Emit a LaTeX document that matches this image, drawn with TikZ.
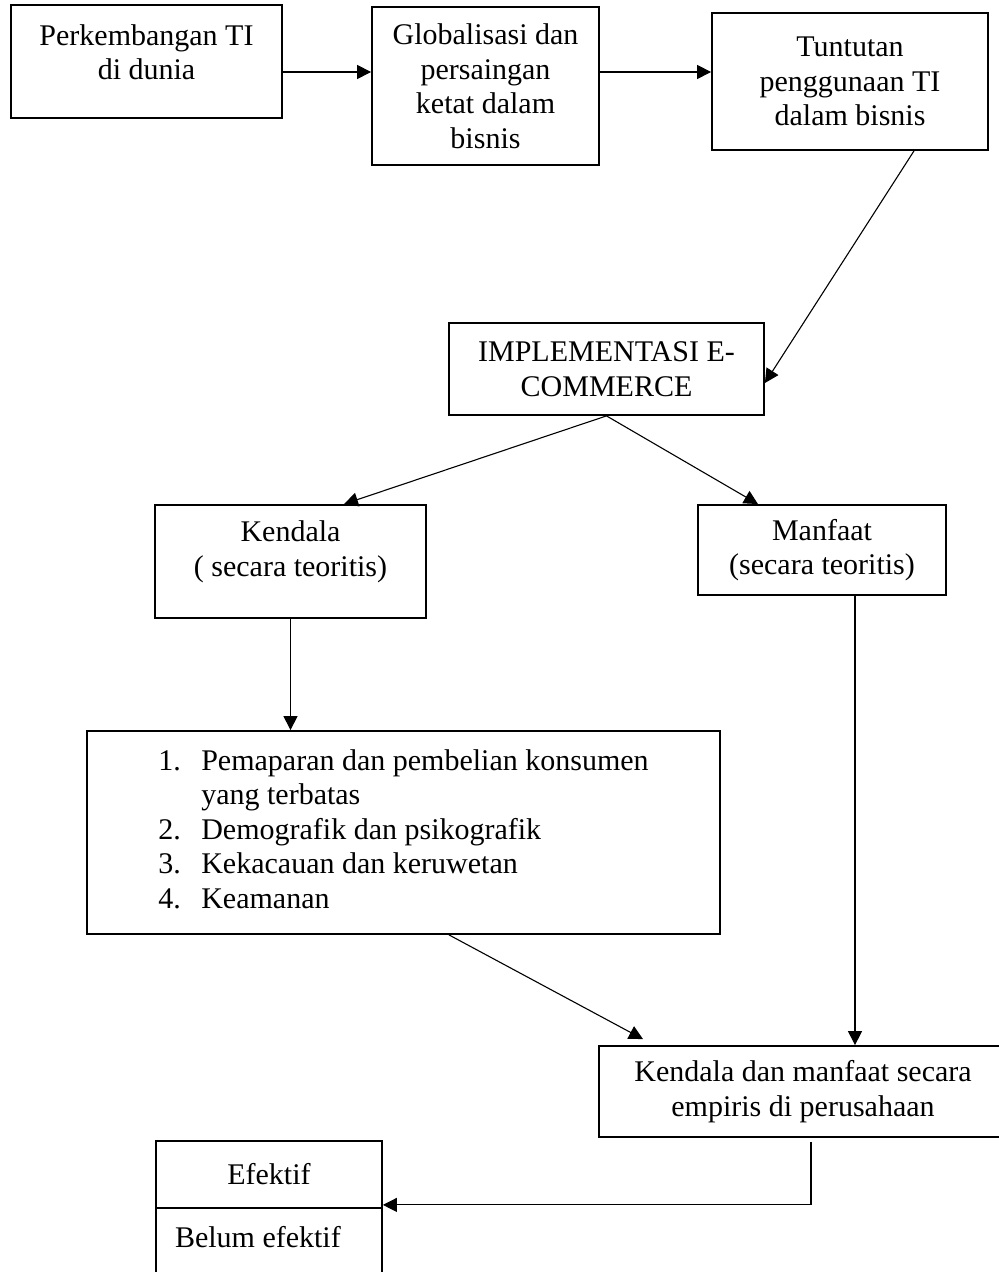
\documentclass[tikz,border=0pt]{standalone}
\usepackage{fontspec}
\setmainfont{Liberation Serif}
\usetikzlibrary{arrows.meta,positioning}

\begin{document}
\begin{tikzpicture}[x=0.5pt, y=-0.5pt, font=\fontsize{15}{17.25}\selectfont,
  box/.style={draw=black, line width=0.9pt, rectangle, align=center, inner sep=2pt},
  arr/.style={line width=0.55pt, -{Triangle[length=7pt,width=7pt]}}]

\useasboundingbox (0,0) rectangle (999,1272);

% top row
\node[box, minimum width=135.5pt, minimum height=56.5pt] (dunia) at (146.5,61.5)
  {Perkembangan TI\\di dunia\\[-7.75pt]\mbox{}};
\node[box, minimum width=113.5pt, minimum height=79pt] (global) at (485.5,86)
  {Globalisasi dan\\persaingan\\ketat dalam\\bisnis};
\node[box, minimum width=138pt, minimum height=68.5pt] (tuntutan) at (850,81.5)
  {Tuntutan\\penggunaan TI\\dalam bisnis};

% implementasi
\node[box, minimum width=157.5pt, minimum height=46pt] (impl) at (606.5,369)
  {IMPLEMENTASI E-\\COMMERCE};

% kendala / manfaat
\node[box, minimum width=135.5pt, minimum height=56.5pt] (kendala) at (290.5,561.5)
  {Kendala\\( secara teoritis)\\[-4.3pt]\mbox{}};
\node[box, minimum width=124pt, minimum height=45pt] (manfaat) at (822,550)
  {Manfaat\\(secara teoritis)};

% daftar kendala
\node[box, minimum width=316.5pt, minimum height=101.5pt] (daftar) at (403.5,832.5)
  {\begin{tabular}{@{}p{21.5pt}@{}l@{}}
  1. & Pemaparan dan pembelian konsumen\\
     & yang terbatas\\
  2. & Demografik dan psikografik\\
  3. & Kekacauan dan keruwetan\\
  4. & Keamanan
  \end{tabular}};

% empiris
\node[box, minimum width=204pt, minimum height=45.5pt] (empiris) at (803,1091.5)
  {Kendala dan manfaat secara\\empiris di perusahaan};

% efektif / belum efektif
\node[box, minimum width=113pt, minimum height=33.5pt] (efektif) at (269,1174.5) {Efektif};
\node[box, minimum width=113pt, minimum height=41pt, text depth=12.25pt,
  text width=94pt, align=flush left, inner xsep=9.5pt] (belum) at (269,1249) {Belum efektif};

% connectors
\draw[arr] ([yshift=-5.25pt]dunia.east) -- ([yshift=-5.25pt]dunia.east -| global.west);
\draw[arr] ([yshift=7pt]global.east) -- ([yshift=7pt]global.east -| tuntutan.west);
\draw[arr] ([xshift=32pt]tuntutan.south) -- ([yshift=-7pt]impl.east);
\draw[arr] (impl.south) -- ([xshift=26.75pt]kendala.north);
\draw[arr] (impl.south) -- ([xshift=-32pt]manfaat.north);
\draw[arr] (kendala.south) -- (kendala.south |- daftar.north);
\draw[arr] ([xshift=22.75pt]daftar.south) -- ([xshift=-80pt,yshift=3pt]empiris.north);
\draw[arr] ([xshift=16.5pt]manfaat.south) -- ([xshift=16.5pt]manfaat.south |- empiris.north);
\draw[arr] ([xshift=4pt,yshift=-2pt]empiris.south) |- ([yshift=2pt]efektif.south east);

\end{tikzpicture}
\end{document}
